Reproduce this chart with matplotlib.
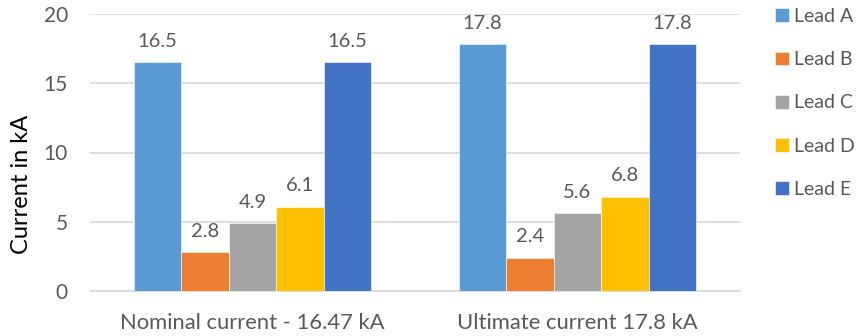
import matplotlib.pyplot as plt
import numpy as np

plt.rcParams['font.family'] = ['Lato', 'DejaVu Sans']

categories = ['Nominal current - 16.47 kA', 'Ultimate current 17.8 kA']
leads = ['Lead A', 'Lead B', 'Lead C', 'Lead D', 'Lead E']
values = {
    'Lead A': [16.5, 17.8],
    'Lead B': [2.8, 2.4],
    'Lead C': [4.9, 5.6],
    'Lead D': [6.1, 6.8],
    'Lead E': [16.5, 17.8],
}
colors = ['#5B9BD5', '#ED7D31', '#A5A5A5', '#FFC000', '#4472C4']
text_color = '#595959'

fig = plt.figure(figsize=(8.65, 3.36), dpi=100)
ax = fig.add_axes([90 / 865, 1 - 291 / 336, 650 / 865, 277 / 336])

x = np.arange(len(categories))
width = 0.146
for i, (lead, c) in enumerate(zip(leads, colors)):
    pos = x + (i - 2) * width
    bars = ax.bar(pos, values[lead], width, color=c, label=lead,
                  edgecolor='white', linewidth=0.4, zorder=3)
    for b, v in zip(bars, values[lead]):
        ax.annotate(f'{v:g}', (b.get_x() + b.get_width() / 2, v),
                    xytext=(0, 9), textcoords='offset points',
                    ha='center', va='bottom', fontsize=14.5, color=text_color)

ax.set_xlim(-0.5, 1.5)
ax.set_ylim(0, 20)
ax.set_yticks([0, 5, 10, 15, 20])
ax.set_xticks(x)
ax.set_xticklabels(categories, fontsize=15.8)
ax.yaxis.grid(True, color='#D9D9D9', linewidth=1.2, zorder=0)
for s in ['top', 'right', 'left']:
    ax.spines[s].set_visible(False)
ax.spines['bottom'].set_color('#D9D9D9')
ax.spines['bottom'].set_linewidth(1.2)
ax.tick_params(axis='both', length=0, colors=text_color)
ax.tick_params(axis='y', labelsize=15, pad=16)
ax.tick_params(axis='x', pad=16)

fig.text(22 / 865, 152 / 336, 'Current in kA', rotation=90, ha='center',
         va='center', fontsize=17, color='black')

ax.legend(loc='upper left', bbox_to_anchor=(775 / 865, 1 - 8 / 336),
          bbox_transform=fig.transFigure, frameon=False, fontsize=14,
          labelcolor=text_color, handlelength=0.7, handleheight=0.7,
          handletextpad=0.3, labelspacing=1.35, borderaxespad=0,
          borderpad=0)

fig.savefig('out.png', dpi=100)
